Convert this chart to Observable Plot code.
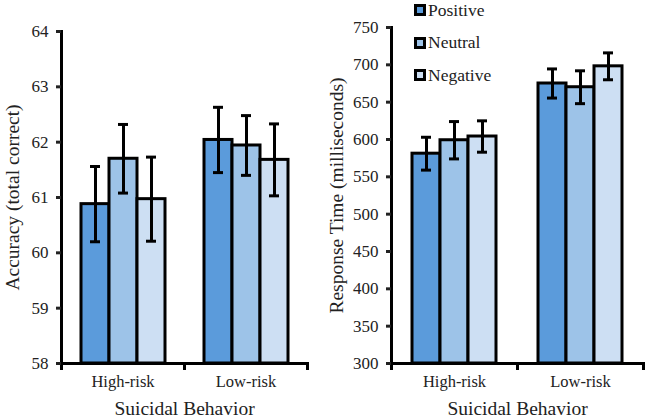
<!DOCTYPE html>
<html><head><meta charset="utf-8">
<script src="https://cdn.jsdelivr.net/npm/d3@7"></script>
<script src="https://cdn.jsdelivr.net/npm/@observablehq/plot@0.6"></script>
<style>
body{margin:0;background:#fff;}
#wrap{position:relative;width:649px;height:420px;font-family:"Liberation Serif","Times New Roman",serif;overflow:hidden;}
.panel{position:absolute;top:0;}
.tag{position:absolute;top:3px;font-family:"Liberation Sans",Arial,sans-serif;font-weight:bold;font-size:16px;color:#111;}
#legend{position:absolute;left:414px;top:-6px;font-size:17.5px;color:#222;}
#legend div{display:flex;align-items:center;height:32.5px;}
#legend span{display:inline-block;width:6px;height:6px;border:3px solid #000;margin-right:2px;}
</style></head>
<body>
<div id="wrap">
  <div class="tag" style="left:6px">A</div>
  <div class="tag" style="left:330px">B</div>
  <div id="panelA" class="panel" style="left:0px"></div>
  <div id="panelB" class="panel" style="left:325px"></div>
  <div id="legend"></div>
</div>
<script>
const groups = ["High-risk", "Low-risk"];
const conditions = ["Positive", "Neutral", "Negative"];
const colors = ["#5b9bdb", "#9dc3e8", "#cddff3"];

const accuracyMean = [[60.88, 61.70, 60.97], [62.04, 61.94, 61.68]];
const accuracyErr  = [[0.68, 0.62, 0.76], [0.59, 0.54, 0.65]];
const accuracyTicks = [58, 59, 60, 61, 62, 63, 64];

const rtMean = [[581, 599, 604], [675, 670, 698]];
const rtErr  = [[22, 25, 21], [19.5, 22, 18]];
const rtTicks = [300, 350, 400, 450, 500, 550, 600, 650, 700, 750];

const xTitle = "Suicidal Behavior";
const accuracyTitle = "Accuracy (total correct)";
const rtTitle = "Response Time (milliseconds)";

const serif = '"Liberation Serif","Times New Roman",serif';

function rowsOf(means, errs) {
  const out = [];
  groups.forEach((g, gi) => conditions.forEach((c, ci) => {
    out.push({group: g, condition: c, mean: means[gi][ci], err: errs[gi][ci]});
  }));
  return out;
}

function panel({rows, ticks, title, width, marginLeft, marginRight, marginTop, paddingOuter, labelOffset}) {
  const height = 420, marginBottom = 57;
  const plotH = height - marginTop - marginBottom;
  const yMin = ticks[0], yMax = ticks[ticks.length - 1];
  return Plot.plot({
    width, height, marginLeft, marginRight, marginTop, marginBottom,
    style: {fontFamily: serif, fontSize: "17px", color: "#222", background: "white", overflow: "visible"},
    fx: {domain: groups, padding: 0},
    x: {domain: conditions, paddingInner: 0, paddingOuter, axis: null},
    y: {domain: [yMin, yMax]},
    color: {domain: conditions, range: colors},
    marks: [
      Plot.barY(rows, {fx: "group", x: "condition", y1: () => yMin, y2: "mean", fill: "condition", stroke: "#000", strokeWidth: 3}),
      Plot.ruleX(rows, {fx: "group", x: "condition", y1: d => d.mean - d.err, y2: d => d.mean + d.err, stroke: "#000", strokeWidth: 3}),
      Plot.tickY(rows, {fx: "group", x: "condition", y: d => d.mean - d.err, stroke: "#000", strokeWidth: 3, inset: 9}),
      Plot.tickY(rows, {fx: "group", x: "condition", y: d => d.mean + d.err, stroke: "#000", strokeWidth: 3, inset: 9}),
      Plot.frame({anchor: "bottom", stroke: "#000", strokeWidth: 3}),
      Plot.frame({anchor: "left", facetAnchor: "left", stroke: "#000", strokeWidth: 3, insetBottom: -5}),
      Plot.frame({anchor: "right", stroke: "#000", strokeWidth: 3, insetTop: plotH, insetBottom: -5}),
      Plot.axisY({ticks, tickFormat: d => String(d), tickSize: 5, tickPadding: 8, strokeWidth: 3, fontSize: 17, fontFamily: serif, label: null}),
      Plot.axisY({ticks: [], tickSize: 0, fontSize: 19.5, fontFamily: serif, label: title, labelAnchor: "center", labelArrow: "none", labelOffset}),
      Plot.axisFx({anchor: "bottom", tickSize: 0, tickPadding: 12, fontSize: 16.5, fontFamily: serif, label: null}),
      Plot.axisFx({anchor: "bottom", ticks: [], tickSize: 0, fontSize: 19.5, fontFamily: serif, label: xTitle, labelAnchor: "center", labelArrow: "none", labelOffset: 51, facetAnchor: null})
    ]
  });
}

document.getElementById("panelA").append(panel({
  rows: rowsOf(accuracyMean, accuracyErr), ticks: accuracyTicks, title: accuracyTitle,
  width: 325, marginLeft: 60, marginRight: 18, marginTop: 31, paddingOuter: 0.68, labelOffset: 56
}));
document.getElementById("panelB").append(panel({
  rows: rowsOf(rtMean, rtErr), ticks: rtTicks, title: rtTitle,
  width: 324, marginLeft: 66, marginRight: 6, marginTop: 27, paddingOuter: 0.72, labelOffset: 62
}));

const legend = document.getElementById("legend");
conditions.forEach((c, i) => {
  const row = document.createElement("div");
  const sw = document.createElement("span");
  sw.style.background = colors[i];
  row.append(sw, document.createTextNode(c));
  legend.append(row);
});
</script>
</body></html>
